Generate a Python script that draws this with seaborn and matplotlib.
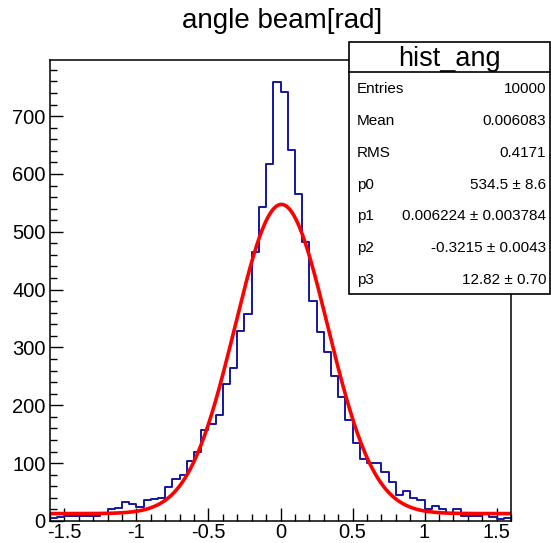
import numpy as np
import pandas as pd
import matplotlib
matplotlib.use("Agg")
import matplotlib.pyplot as plt
from matplotlib.ticker import MultipleLocator, FuncFormatter
from matplotlib.patches import Rectangle
from matplotlib.lines import Line2D
import seaborn as sns

# ---------------- data ----------------
title = "angle beam[rad]"
hist_name = "hist_ang"
x_min, x_max, n_bins = -1.6, 1.6, 64
counts = [
    5, 7, 8, 9, 9, 8, 9, 14, 20, 22,
    33, 30, 25, 36, 38, 40, 58, 73, 80, 103,
    119, 158, 168, 184, 237, 264, 328, 358, 465, 543,
    617, 759, 742, 641, 565, 483, 380, 327, 292, 250,
    215, 175, 135, 107, 100, 100, 84, 68, 45, 52,
    39, 36, 20, 26, 20, 13, 20, 9, 9, 8,
    12, 7, 4, 5,
]
stat_labels = ["Entries", "Mean", "RMS", "p0", "p1", "p2", "p3"]
stat_values = ["10000", "0.006083", "0.4171", "534.5 \u00b1 8.6",
               "0.006224 \u00b1 0.003784", "-0.3215 \u00b1 0.0043", "12.82 \u00b1 0.70"]
fit_p0, fit_p1, fit_p2, fit_p3 = 534.5, 0.006224, -0.3215, 12.82
y_max = 797

# ---------------- style ----------------
sns.set_theme(style="white")
plt.rcParams["font.family"] = ["Liberation Sans", "DejaVu Sans"]
plt.rcParams["axes.unicode_minus"] = False
plt.rcParams["text.color"] = "black"
plt.rcParams["xtick.color"] = "black"
plt.rcParams["ytick.color"] = "black"
plt.rcParams["xtick.labelcolor"] = "black"
plt.rcParams["ytick.labelcolor"] = "black"

W, H = 551, 543
fig = plt.figure(figsize=(W / 100, H / 100), dpi=100)
fig.patch.set_facecolor("white")
ax = fig.add_axes([50 / W, 1 - 521 / H, (511 - 50) / W, (521 - 60) / H])

bin_w = (x_max - x_min) / n_bins
centers = x_min + bin_w * (np.arange(n_bins) + 0.5)
df = pd.DataFrame({"angle": centers, "count": counts})
sns.histplot(data=df, x="angle", weights="count", binwidth=bin_w,
             binrange=(x_min, x_max), element="step",
             fill=False, color="#1616a0", linewidth=1.4, ax=ax)

xf = np.linspace(x_min, x_max, 500)
yf = fit_p0 * np.exp(-0.5 * ((xf - fit_p1) / fit_p2) ** 2) + fit_p3
sns.lineplot(x=xf, y=yf, color="#ff0000", linewidth=2.6, ax=ax)

ax.set_xlim(x_min, x_max)
ax.set_ylim(0, y_max)
ax.set_xlabel("")
ax.set_ylabel("")
ax.xaxis.set_major_locator(MultipleLocator(0.5))
ax.xaxis.set_minor_locator(MultipleLocator(0.1))
ax.yaxis.set_major_locator(MultipleLocator(100))
ax.yaxis.set_minor_locator(MultipleLocator(20))
ax.xaxis.set_major_formatter(FuncFormatter(lambda v, p: "%g" % round(v, 3)))
ax.yaxis.set_major_formatter(FuncFormatter(lambda v, p: "%g" % round(v, 3)))
ax.tick_params(which="both", direction="in", top=False, right=False,
               bottom=True, left=True, color="black", labelcolor="black", width=1.0)
ax.tick_params(which="major", length=9.5, labelsize=14.5)
ax.tick_params(axis="x", which="major", pad=1.5)
ax.tick_params(axis="y", which="major", pad=3)
ax.tick_params(which="minor", length=5)
for s in ax.spines.values():
    s.set_color("black")
    s.set_linewidth(1.1)
    s.set_visible(True)

# title
fig.text(282 / W, 1 - 28 / H, title, ha="center", va="baseline", fontsize=20, color="black")

# stats box
bx0, bx1, by_top, by_bot, by_sep = 349, 550, 42, 294, 72
fig.add_artist(Rectangle((bx0 / W, 1 - by_bot / H), (bx1 - bx0) / W, (by_bot - by_top) / H,
                         transform=fig.transFigure, facecolor="white", edgecolor="black",
                         linewidth=1.2, zorder=5))
fig.add_artist(Line2D([bx0 / W, bx1 / W], [1 - by_sep / H, 1 - by_sep / H],
                      transform=fig.transFigure, color="black", linewidth=1.2, zorder=6))
fig.text((bx0 + bx1) / 2 / W, 1 - 66.5 / H, hist_name, ha="center", va="baseline",
         fontsize=19.5, color="black", zorder=7)
row_h = (by_bot - by_sep) / len(stat_labels)
for i, (lab, val) in enumerate(zip(stat_labels, stat_values)):
    yc = by_sep + row_h * (i + 0.5) + 5.5
    fig.text(357 / W, 1 - yc / H, lab, ha="left", va="baseline", fontsize=11,
             color="black", zorder=7)
    fig.text(546 / W, 1 - yc / H, val, ha="right", va="baseline", fontsize=11,
             color="black", zorder=7)

fig.savefig("out.png", dpi=100, facecolor="white")
